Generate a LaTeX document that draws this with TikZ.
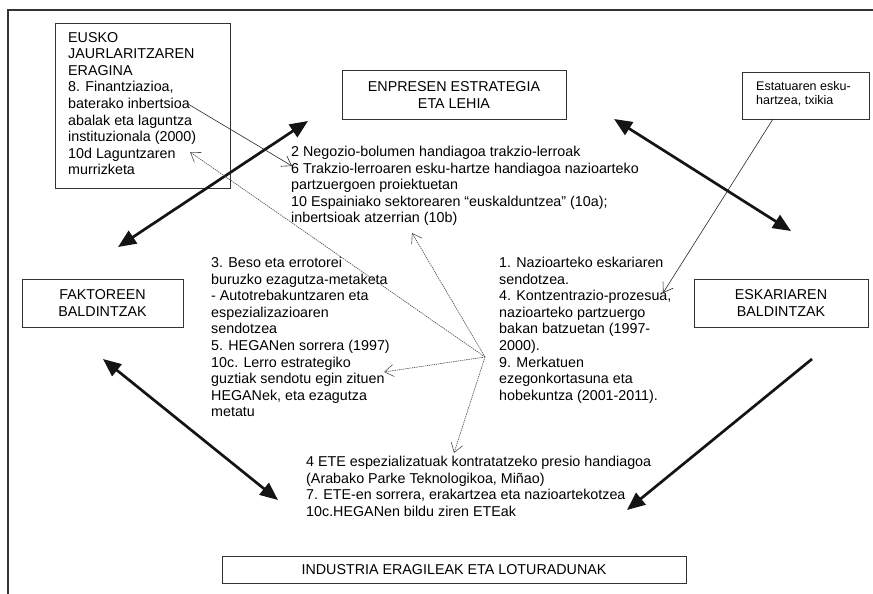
\documentclass[tikz,border=0pt]{standalone}
\usepackage{fontspec}
\setmainfont{Liberation Sans}
\usetikzlibrary{arrows.meta}
\begin{document}
\begin{tikzpicture}[x=1pt,y=-1pt,
  box/.style={draw=black!80, line width=1pt, inner sep=0pt},
  body/.style={font=\fontsize{14.3}{16.6}\selectfont},
  txt/.style={body, inner sep=0pt, anchor=north west, align=left},
  boxtxt/.style={body, align=center},
  bigarrow/.style={line width=2.7pt, black!92},
  thinarrow/.style={line width=0.6pt, black!85, -{Straight Barb[length=9pt,width=12pt]}},
  hubline/.style={thinarrow, dash pattern=on 1.4pt off 0.8pt, black!70},
]
\useasboundingbox (0,0) rectangle (873,594);

% outer frame
\coordinate (fbl) at (8,596);
\coordinate (ftl) at (8,10);
\coordinate (ftr) at (875,10);
\draw[line width=1.2pt, black!80] (fbl) -- (ftl) -- (ftr);

% boxes of the diamond
\node[box, anchor=north west, minimum width=175pt, minimum height=165pt] (gov) at (55,23) {};
\node[txt] (govtxt) at (68,32) {EUSKO\\JAURLARITZAREN\\ERAGINA\\8. Finantziazioa,\\baterako inbertsioa\\abalak eta laguntza\\instituzionala (2000)\\10d Laguntzaren\\murrizketa};

\node[box, boxtxt, minimum width=224pt, minimum height=48pt] (strat) at (454,95) {ENPRESEN ESTRATEGIA\\ETA LEHIA};

\node[box, anchor=north west, minimum width=127pt, minimum height=47pt] (state) at (742,72) {};
\node[inner sep=0pt, anchor=north west, align=left, font=\fontsize{12.5}{14.3}\selectfont] (statetxt) at (756,81) {Estatuaren esku-\\hartzea, txikia};

\node[box, boxtxt, minimum width=161pt, minimum height=48pt] (factor) at (102.5,303) {FAKTOREEN\\BALDINTZAK};
\node[box, boxtxt, minimum width=174pt, minimum height=48pt] (demand) at (781,303) {ESKARIAREN\\BALDINTZAK};
\node[box, boxtxt, minimum width=464pt, minimum height=27pt] (industry) at (454,569.5) {INDUSTRIA ERAGILEAK ETA LOTURADUNAK};

% explanatory texts
\node[txt] (strattxt) at (291,146) {2 Negozio-bolumen handiagoa trakzio-lerroak\\6 Trakzio-lerroaren esku-hartze handiagoa nazioarteko\\partzuergoen proiektuetan\\10 Espainiako sektorearen “euskalduntzea” (10a);\\inbertsioak atzerrian (10b)};
\node[txt] (factortxt) at (211,257) {3. Beso eta errotorei\\buruzko ezagutza-metaketa\\- Autotrebakuntzaren eta\\espezializazioaren\\sendotzea\\5. HEGANen sorrera (1997)\\10c. Lerro estrategiko\\guztiak sendotu egin zituen\\HEGANek, eta ezagutza\\metatu};
\node[txt] (demandtxt) at (499,257) {1. Nazioarteko eskariaren\\sendotzea.\\4. Kontzentrazio-prozesua,\\nazioarteko partzuergo\\bakan batzuetan (1997-\\2000).\\9. Merkatuen\\ezegonkortasuna eta\\hobekuntza (2001-2011).};
\node[txt] (industrytxt) at (306,456) {4 ETE espezializatuak kontratatzeko presio handiagoa\\(Arabako Parke Teknologikoa, Miñao)\\7. ETE-en sorrera, erakartzea eta nazioartekotzea\\10c.HEGANen bildu ziren ETEak};

% end points of the connectors
\coordinate (fN) at (118,247);
\coordinate (sW) at (308,121);
\coordinate (sE) at (614,119);
\coordinate (dN) at (791,231);
\coordinate (fS) at (103,359);
\coordinate (iW) at (278,500);
\coordinate (dS) at (812,359);
\coordinate (iE) at (627,510);

\coordinate (inv) at (188,104);
\coordinate (trak) at (292,166);
\coordinate (statefoot) at (773,119);
\coordinate (kontz) at (663,293);

\coordinate (hub) at (485,357);
\coordinate (h10b) at (412,233);
\coordinate (h10d) at (190,152);
\coordinate (h10c) at (384,372);
\coordinate (hete) at (454,453);

% heavy double arrows of the diamond
\draw[bigarrow, {Triangle[length=18pt,width=15pt]}-{Triangle[length=18pt,width=15pt]}] (fN) -- (sW);
\draw[bigarrow, {Triangle[length=18pt,width=15pt]}-{Triangle[length=18pt,width=15pt]}] (sE) -- (dN);
\draw[bigarrow, {Triangle[length=18pt,width=15pt]}-{Triangle[length=18pt,width=15pt]}] (fS) -- (iW);
\draw[bigarrow, -{Triangle[length=18pt,width=15pt]}] (dS) -- (iE);

% thin links between the texts
\draw[thinarrow] (inv) -- (trak);
\draw[thinarrow] (statefoot) -- (kontz);
\draw[hubline] (hub) -- (h10b);
\draw[hubline] (hub) -- (h10d);
\draw[hubline] (hub) -- (h10c);
\draw[hubline] (hub) -- (hete);
\end{tikzpicture}
\end{document}
